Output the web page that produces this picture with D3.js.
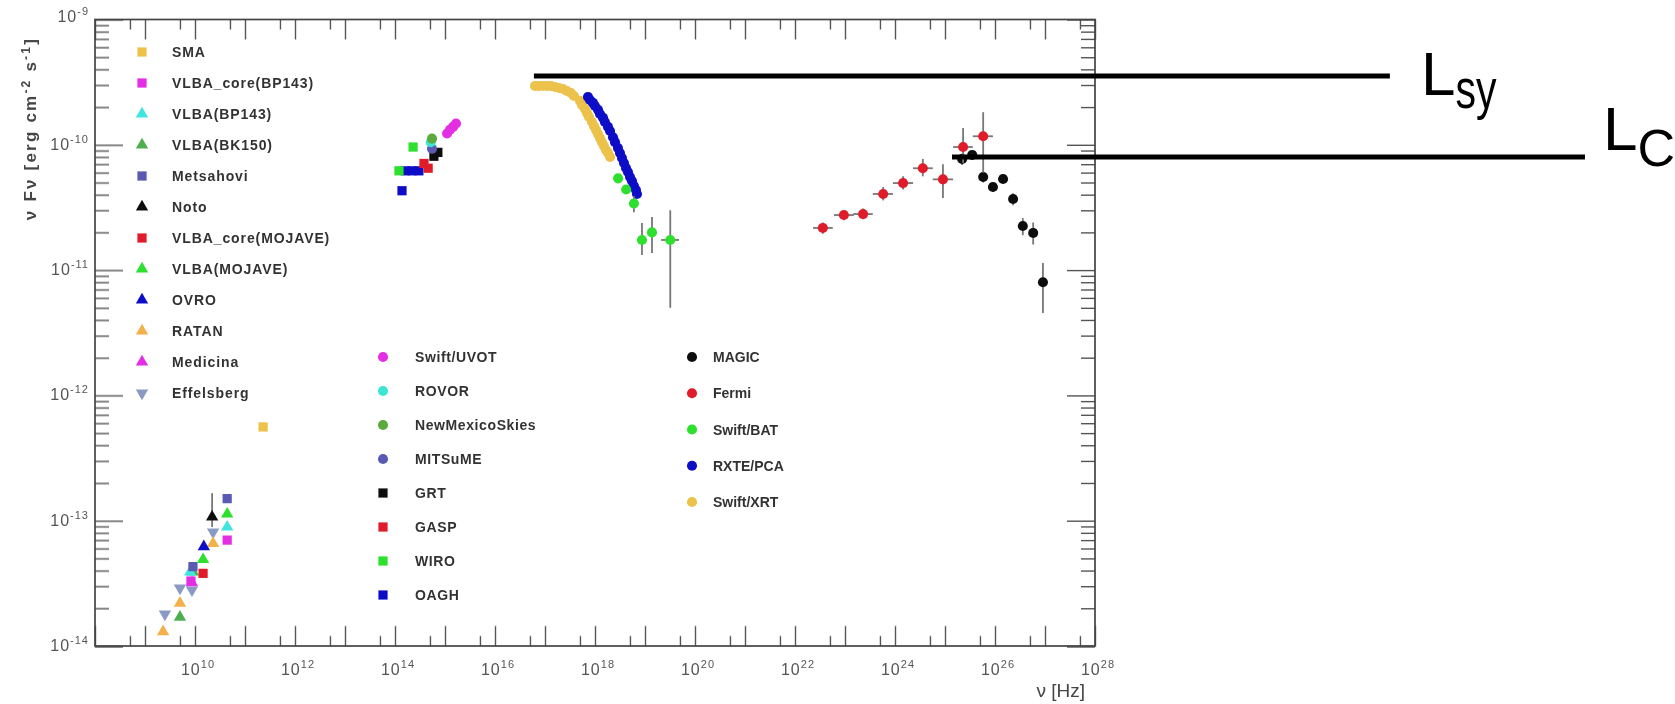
<!DOCTYPE html>
<html>
<head>
<meta charset="utf-8">
<script src="https://cdn.jsdelivr.net/npm/d3@7"></script>
<style>
  body { margin: 0; background: #fff; }
  text { font-family: "Liberation Sans", Arial, sans-serif; }
</style>
</head>
<body>
<script>
// ---- data: [nu (Hz), nuFnu (erg cm^-2 s^-1), fLo, fHi, nuLo, nuHi] ----
var sma            = [[2.3e11, 5.6e-13]];
var vlbaCoreBP143  = [[8.3e9, 3.3e-14], [4.4e10, 7.0e-14]];
var vlbaBP143      = [[8.0e9, 3.9e-14], [4.4e10, 8.9e-14]];
var vlbaBK150      = [[5.0e9, 1.7e-14], [9.1e9, 3.9e-14]];
var metsahovi      = [[9.1e9, 4.3e-14], [4.4e10, 1.5e-13]];
var noto           = [[2.2e10, 1.07e-13, 8.9e-14, 1.66e-13]];
var vlbaCoreMojave = [[1.45e10, 3.8e-14]];
var vlbaMojave     = [[1.45e10, 4.9e-14], [4.4e10, 1.13e-13]];
var ovro           = [[1.5e10, 6.2e-14]];
var ratan          = [[2.3e9, 1.3e-14], [5.0e9, 2.2e-14], [2.3e10, 6.6e-14]];
var medicina       = [[8.7e9, 3.2e-14]];
var effelsberg     = [[2.5e9, 1.8e-14], [5.0e9, 2.9e-14], [8.7e9, 2.8e-14], [2.3e10, 8.1e-14]];

var swiftUVOT      = [[1.1e15, 1.23e-10], [1.26e15, 1.32e-10], [1.45e15, 1.39e-10], [1.66e15, 1.48e-10]];
var rovor          = [[5.2e14, 1.05e-10]];
var newMexicoSkies = [[5.5e14, 1.12e-10]];
var mitsume        = [[5.5e14, 9.3e-11]];
var grt            = [[6.0e14, 8.1e-11], [7.2e14, 8.7e-11]];
var gasp           = [[3.8e14, 7.1e-11], [4.6e14, 6.5e-11]];
var wiro           = [[1.2e14, 6.2e-11], [2.3e14, 9.6e-11]];
var oagh           = [[1.38e14, 4.3e-11], [1.6e14, 6.2e-11], [2.2e14, 6.2e-11], [3.0e14, 6.2e-11]];

var magic = [
  [2.2e25, 7.7e-11, 6.9e-11, 8.5e-11], [3.5e25, 8.3e-11, 7.6e-11, 9.0e-11],
  [5.8e25, 5.53e-11, 5.0e-11, 6.1e-11], [9.1e25, 4.6e-11, 4.2e-11, 5.0e-11],
  [1.45e26, 5.33e-11, 4.9e-11, 5.8e-11], [2.3e26, 3.69e-11, 3.3e-11, 4.1e-11],
  [3.6e26, 2.25e-11, 1.9e-11, 2.6e-11], [5.8e26, 1.98e-11, 1.6e-11, 2.4e-11],
  [9.1e26, 8.0e-12, 4.55e-12, 1.14e-11]
];
var fermi = [
  [3.6e22, 2.17e-11, 1.95e-11, 2.4e-11, 2.3e22, 5.7e22],
  [9.5e22, 2.75e-11, 2.5e-11, 3.0e-11, 6.0e22, 1.5e23],
  [2.3e23, 2.8e-11, 2.55e-11, 3.1e-11, 1.45e23, 3.6e23],
  [5.8e23, 4.05e-11, 3.6e-11, 4.6e-11, 3.6e23, 9.1e23],
  [1.45e24, 4.95e-11, 4.4e-11, 5.6e-11, 9.1e23, 2.3e24],
  [3.6e24, 6.5e-11, 5.6e-11, 7.7e-11, 2.3e24, 5.7e24],
  [9.1e24, 5.3e-11, 3.76e-11, 7.0e-11, 5.7e24, 1.45e25],
  [2.3e25, 9.6e-11, 7.2e-11, 1.36e-10, 1.45e25, 3.6e25],
  [5.8e25, 1.17e-10, 6.0e-11, 1.82e-10, 3.6e25, 9.1e25]
];
var swiftBAT = [
  [2.9e18, 5.4e-11], [4.2e18, 4.4e-11], [6.0e18, 3.4e-11, 2.9e-11, 3.9e-11],
  [8.7e18, 1.74e-11, 1.32e-11, 2.38e-11, 7.2e18, 1.05e19],
  [1.38e19, 2.0e-11, 1.37e-11, 2.65e-11, 1.15e19, 1.66e19],
  [3.2e19, 1.74e-11, 5.0e-12, 3.0e-11, 2.1e19, 4.8e19]
];
var rxtePCA = [
  [7.24e17, 2.41e-10], [7.94e17, 2.28e-10], [9.12e17, 2.16e-10], [1.0e18, 2.04e-10],
  [1.15e18, 1.90e-10], [1.26e18, 1.76e-10], [1.45e18, 1.64e-10], [1.58e18, 1.52e-10],
  [1.82e18, 1.39e-10], [2.0e18, 1.29e-10], [2.29e18, 1.15e-10], [2.51e18, 1.05e-10],
  [2.88e18, 9.43e-11], [3.16e18, 8.60e-11], [3.47e18, 7.85e-11], [3.80e18, 7.16e-11],
  [4.17e18, 6.53e-11], [4.57e18, 6.07e-11], [5.01e18, 5.53e-11], [5.50e18, 5.14e-11],
  [6.03e18, 4.69e-11], [6.61e18, 4.36e-11], [6.92e18, 4.05e-11]
];
var swiftXRT = [
  [6.31e16, 2.95e-10], [7.59e16, 2.95e-10], [9.12e16, 2.95e-10], [1.10e17, 2.95e-10],
  [1.32e17, 2.95e-10], [1.58e17, 2.89e-10], [1.91e17, 2.84e-10], [2.29e17, 2.79e-10],
  [2.75e17, 2.69e-10], [3.31e17, 2.59e-10], [3.80e17, 2.45e-10],
  [5.01e17, 2.24e-10], [5.50e17, 2.08e-10], [6.31e17, 1.93e-10], [6.92e17, 1.79e-10],
  [7.59e17, 1.67e-10], [8.71e17, 1.52e-10], [9.55e17, 1.41e-10], [1.05e18, 1.31e-10],
  [1.15e18, 1.22e-10], [1.26e18, 1.13e-10], [1.38e18, 1.05e-10], [1.51e18, 9.78e-11],
  [1.66e18, 9.09e-11], [1.82e18, 8.60e-11], [2.0e18, 7.99e-11]
];

// luminance levels marked on the figure: [level, nu start, nu end]
var lSy = [3.54e-10, 6.0e16, 7.9e33];
var lC  = [8.0e-11, 1.38e25, 6.3e37];

// axis ticks
var xMajor = d3.range(8, 29).map(function(k) { return Math.pow(10, k); });
var xMinor = d3.range(8, 28).map(function(k) { return 5 * Math.pow(10, k); });
var xLabels = d3.range(10, 29, 2);
var yMajor = d3.range(-14, -8).map(function(k) { return Math.pow(10, k); });
var yMinor = [];
d3.range(-14, -9).forEach(function(k) {
	d3.range(2, 10).forEach(function(m) { yMinor.push(m * Math.pow(10, k)); });
});

// ---- series styles ----
var series = [
	{ name: 'SMA', data: sma, shape: 'square', color: '#ecc24c', col: 0 },
	{ name: 'VLBA_core(BP143)', data: vlbaCoreBP143, shape: 'square', color: '#e42ee4', col: 0 },
	{ name: 'VLBA(BP143)', data: vlbaBP143, shape: 'triangle', color: '#40e4e0', col: 0 },
	{ name: 'VLBA(BK150)', data: vlbaBK150, shape: 'triangle', color: '#4fae50', col: 0 },
	{ name: 'Metsahovi', data: metsahovi, shape: 'square', color: '#5a5ab4', col: 0 },
	{ name: 'Noto', data: noto, shape: 'triangle', color: '#111111', col: 0 },
	{ name: 'VLBA_core(MOJAVE)', data: vlbaCoreMojave, shape: 'square', color: '#e01e2a', col: 0 },
	{ name: 'VLBA(MOJAVE)', data: vlbaMojave, shape: 'triangle', color: '#2ee02e', col: 0 },
	{ name: 'OVRO', data: ovro, shape: 'triangle', color: '#1010c8', col: 0 },
	{ name: 'RATAN', data: ratan, shape: 'triangle', color: '#f4b04c', col: 0 },
	{ name: 'Medicina', data: medicina, shape: 'triangle', color: '#e42ee4', col: 0 },
	{ name: 'Effelsberg', data: effelsberg, shape: 'down', color: '#8a9ac4', col: 0 },
	{ name: 'Swift/UVOT', data: swiftUVOT, shape: 'circle', color: '#e42ee4', col: 1 },
	{ name: 'ROVOR', data: rovor, shape: 'circle', color: '#3ee6d4', col: 1 },
	{ name: 'NewMexicoSkies', data: newMexicoSkies, shape: 'circle', color: '#5aaa3c', col: 1 },
	{ name: 'MITSuME', data: mitsume, shape: 'circle', color: '#5a5ab4', col: 1 },
	{ name: 'GRT', data: grt, shape: 'square', color: '#111111', col: 1 },
	{ name: 'GASP', data: gasp, shape: 'square', color: '#e01e2a', col: 1 },
	{ name: 'WIRO', data: wiro, shape: 'square', color: '#2ee02e', col: 1 },
	{ name: 'OAGH', data: oagh, shape: 'square', color: '#1010c8', col: 1 },
	{ name: 'MAGIC', data: magic, shape: 'circle', color: '#111111', col: 2 },
	{ name: 'Fermi', data: fermi, shape: 'circle', color: '#e01e2a', col: 2 },
	{ name: 'Swift/BAT', data: swiftBAT, shape: 'circle', color: '#2ee02e', col: 2 },
	{ name: 'RXTE/PCA', data: rxtePCA, shape: 'circle', color: '#1010c8', col: 2 },
	{ name: 'Swift/XRT', data: swiftXRT, shape: 'circle', color: '#ecc24c', col: 2 }
];
// draw order of the data (later on top)
var drawOrder = ['SMA', 'Effelsberg', 'RATAN', 'VLBA(BK150)', 'Medicina', 'VLBA_core(BP143)', 'VLBA(BP143)',
	'Metsahovi', 'VLBA_core(MOJAVE)', 'VLBA(MOJAVE)', 'OVRO', 'Noto',
	'OAGH', 'WIRO', 'GASP', 'GRT', 'MITSuME', 'ROVOR', 'NewMexicoSkies', 'Swift/UVOT',
	'Swift/XRT', 'RXTE/PCA', 'Swift/BAT', 'MAGIC', 'Fermi'];

// legend columns: marker x, text x, first row y, row step, letter spacing (page coords)
var legendCols = [
	{ mx: 142, tx: 172, y0: 52, step: 31, ls: 0.9 },
	{ mx: 383, tx: 415, y0: 357, step: 34, ls: 0.6 },
	{ mx: 692, tx: 713, y0: 357, step: 36.25, ls: 0 }
];

// ---- layout ----
var margin = { top: 19.5, right: 580, bottom: 58, left: 95 },
	width = 1675 - margin.left - margin.right,
	height = 704 - margin.top - margin.bottom;

var svg = d3.select('body').append('svg')
	.attr('width', 1675)
	.attr('height', 704);

svg.append('defs').append('filter')
	.attr('id', 'soft')
	.attr('x', -0.05).attr('y', -0.05).attr('width', 1.1).attr('height', 1.1)
	.append('feGaussianBlur').attr('stdDeviation', 0.75);

var x = d3.scaleLog().domain([1e8, 1e28]).range([0, width]);
var y = d3.scaleLog().domain([1e-14, 1e-9]).range([height, 0]);

var chart = svg.append('g')
	.attr('transform', `translate(${margin.left}, ${margin.top})`)
	.attr('filter', 'url(#soft)');

// ticks on all four sides, pointing inwards
function ticks(axis, values, size, transform) {
	chart.append('g')
		.attr('transform', transform)
		.call(axis.tickValues(values).tickSizeInner(size).tickSizeOuter(0).tickFormat(''))
		.call(function(g) { g.select('.domain').remove(); })
		.selectAll('line').attr('stroke', '#555').attr('stroke-width', 1.4);
}
ticks(d3.axisBottom(x), xMajor, -20, `translate(0, ${height})`);
ticks(d3.axisBottom(x), xMinor, -10, `translate(0, ${height})`);
ticks(d3.axisTop(x), xMajor, -20, 'translate(0, 0)');
ticks(d3.axisTop(x), xMinor, -10, 'translate(0, 0)');
ticks(d3.axisLeft(y), yMajor, -28, 'translate(0, 0)');
ticks(d3.axisLeft(y), yMinor, -14, 'translate(0, 0)');
ticks(d3.axisRight(y), yMajor, -28, `translate(${width}, 0)`);
ticks(d3.axisRight(y), yMinor, -14, `translate(${width}, 0)`);

chart.append('rect')
	.attr('width', width)
	.attr('height', height)
	.attr('fill', 'none')
	.attr('stroke', '#444')
	.attr('stroke-width', 1.7);

// tick labels 10^n (the top one is nudged up a little, as in the figure)
var yLab = chart.append('g').selectAll('text')
	.data(yMajor)
	.join('text')
	.attr('x', -6)
	.attr('y', function(d, i) { return y(d) + (i === yMajor.length - 1 ? 2 : 5); })
	.attr('text-anchor', 'end')
	.attr('fill', '#555')
	.attr('font-size', 16)
	.attr('letter-spacing', 1);
yLab.append('tspan').text('10');
yLab.append('tspan').attr('dy', -7).attr('font-size', 11)
	.text(function(d) { return Math.round(Math.log10(d)); });

var xLab = chart.append('g').selectAll('text')
	.data(xLabels)
	.join('text')
	.attr('x', function(d) { return x(Math.pow(10, d)) + 3; })
	.attr('y', height + 29)
	.attr('text-anchor', 'middle')
	.attr('fill', '#555')
	.attr('font-size', 16)
	.attr('letter-spacing', 1);
xLab.append('tspan').text('10');
xLab.append('tspan').attr('dy', -7).attr('font-size', 11).text(function(d) { return d; });

// axis titles
var yTitle = chart.append('text')
	.attr('transform', `translate(${36 - margin.left}, ${37 - margin.top}) rotate(-90)`)
	.attr('text-anchor', 'end')
	.attr('fill', '#444')
	.attr('font-size', 17)
	.attr('font-weight', 'bold')
	.attr('letter-spacing', 2.2);
yTitle.append('tspan').text('ν Fν [erg cm');
yTitle.append('tspan').attr('dy', -6).attr('font-size', 12).text('-2');
yTitle.append('tspan').attr('dy', 6).text(' s');
yTitle.append('tspan').attr('dy', -6).attr('font-size', 12).text('-1');
yTitle.append('tspan').attr('dy', 6).text(']');

chart.append('text')
	.attr('x', width - 10)
	.attr('y', height + 51)
	.attr('text-anchor', 'end')
	.attr('fill', '#444')
	.attr('font-size', 19)
	.text('ν [Hz]');

// markers
var symbols = { square: d3.symbolSquare, triangle: d3.symbolTriangle, down: d3.symbolTriangle, circle: d3.symbolCircle };
var symSize = { square: 85, triangle: 66, down: 66, circle: 80 };
function placeMarker(sel, s, px, py) {
	sel.attr('d', d3.symbol(symbols[s.shape], symSize[s.shape])())
		.attr('fill', s.color)
		.attr('transform', `translate(${px}, ${py})` + (s.shape === 'down' ? ' rotate(180)' : ''));
}

// legends
var legend = chart.append('g').attr('transform', `translate(${-margin.left}, ${-margin.top})`);
d3.range(3).forEach(function(c) {
	var col = legendCols[c];
	var items = series.filter(function(s) { return s.col === c; });
	items.forEach(function(s, i) {
		var yy = col.y0 + i * col.step;
		legend.append('path').call(placeMarker, s, col.mx, yy);
		legend.append('text')
			.attr('x', col.tx)
			.attr('y', yy + 5)
			.attr('fill', '#333')
			.attr('font-size', 14)
			.attr('font-weight', 'bold')
			.attr('letter-spacing', col.ls)
			.text(s.name);
	});
});

// data points with error bars
var points = chart.append('g');
drawOrder.forEach(function(name) {
	var s = series.find(function(d) { return d.name === name; });
	var g = points.append('g');
	s.data.forEach(function(d) {
		var px = x(d[0]), py = y(d[1]);
		if (d[2] !== undefined) {
			g.append('line')
				.attr('x1', px).attr('x2', px)
				.attr('y1', y(d[2])).attr('y2', y(d[3]))
				.attr('stroke', '#777').attr('stroke-width', 1.8);
		}
		if (d[4] !== undefined) {
			g.append('line')
				.attr('x1', x(d[4])).attr('x2', x(d[5]))
				.attr('y1', py).attr('y2', py)
				.attr('stroke', '#777').attr('stroke-width', 1.8);
		}
	});
	s.data.forEach(function(d) {
		g.append('path').call(placeMarker, s, x(d[0]), y(d[1]));
	});
});

// luminance level annotations (sharp, outside the blurred plot)
var notes = svg.append('g').attr('transform', `translate(${margin.left}, ${margin.top})`);
[[lSy, 'sy', 35, 19, 13, 56, 41], [lC, 'C', 22, -7, 16, 52, null]].forEach(function(a) {
	var lv = a[0], ly = y(lv[0]), xEnd = x(lv[2]);
	notes.append('line')
		.attr('x1', x(lv[1])).attr('x2', xEnd)
		.attr('y1', ly).attr('y2', ly)
		.attr('stroke', '#000').attr('stroke-width', 5);
	notes.append('text')
		.attr('x', xEnd + a[2] - 4)
		.attr('y', ly + a[3])
		.attr('font-size', 62)
		.text('L');
	var sub = notes.append('text')
		.attr('x', xEnd + a[2] - 4 + 34.5)
		.attr('y', ly + a[3] + a[4])
		.attr('font-size', a[5])
		.text(a[1]);
	if (a[6]) sub.attr('textLength', a[6]).attr('lengthAdjust', 'spacingAndGlyphs');
});
</script>
</body>
</html>
